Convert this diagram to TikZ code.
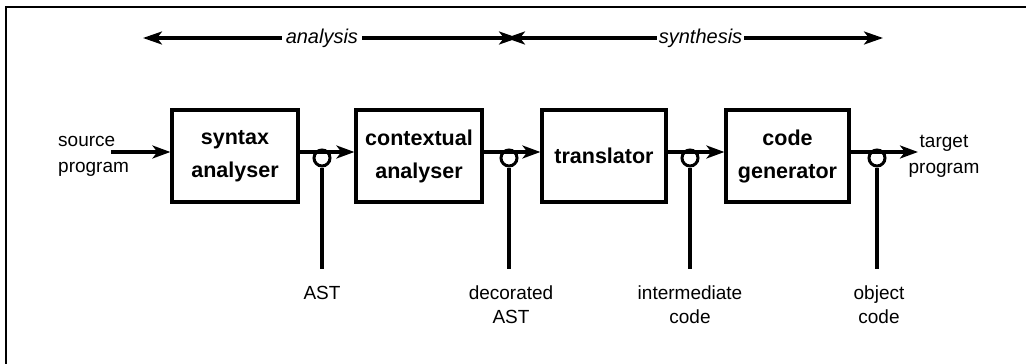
\documentclass[tikz,border=0pt]{standalone}
\usepackage{fontspec}
\setmainfont{Liberation Sans}
\usetikzlibrary{arrows.meta}

\tikzset{
  frameline/.style={line width=2pt},
  block/.style={draw, line width=3.2pt, minimum height=92pt, align=center,
    inner sep=0pt, font=\bfseries\fontsize{21.5}{33}\selectfont},
  tap/.style={circle, draw, line width=3pt, minimum size=16pt, inner sep=0pt},
  flow/.style={line width=3.2pt},
  drop/.style={line width=3.2pt},
  tip/.style={-{Stealth[length=18pt,width=13pt,inset=5pt]}},
  twotip/.style={{Stealth[length=19pt,width=13pt,inset=5pt]}-{Stealth[length=19pt,width=13pt,inset=5pt]}},
  phase/.style={fill=white, inner sep=4pt, font=\itshape\fontsize{20}{24}\selectfont},
  lbl/.style={align=center, inner sep=0pt, font=\fontsize{19}{24}\selectfont},
}

\begin{document}
\begin{tikzpicture}[x=1pt,y=-1pt]
\useasboundingbox (0,0) rectangle (1026,364);

% outer frame (top and left edges)
\draw[frameline] (1040,7) -- (6,7) -- (6,380);

% phase arrows
\coordinate (a1) at (143,38);
\coordinate (a2) at (518,38);
\coordinate (s1) at (506,38);
\coordinate (s2) at (883,38);
\draw[flow, twotip] (a1) -- (a2) node[phase, pos=0.477] (analysis) {analysis};
\draw[flow, twotip] (s1) -- (s2) node[phase, pos=0.516, inner sep=2pt] (synthesis) {synthesis};

% compiler phases
\node[block, minimum width=126pt] (syn) at (235,156) {syntax\\analyser};
\node[block, minimum width=126pt] (ctx) at (419,156) {contextual\\analyser};
\node[block, minimum width=124pt] (trn) at (604,156) {translator};
\node[block, minimum width=123pt] (gen) at (787.5,156) {code\\generator};

% input and output
\coordinate (in) at (111,152);
\coordinate (out) at (918,152);
\node[lbl, align=left, anchor=west, font=\fontsize{19}{26}\selectfont] (src) at (58,156) {source\\program};
\node[lbl, font=\fontsize{19}{26}\selectfont] (tgt) at (944,156) {target\\program};

% taps on the data flow
\node[tap] (t1) at (322,158) {};
\node[tap] (t2) at (509,158) {};
\node[tap] (t3) at (690,158) {};
\node[tap] (t4) at (877,158) {};

% data flow between phases
\draw[flow, tip] (in) -- ([yshift=4pt]syn.west);
\draw[flow, tip] ([yshift=4pt]syn.east) -- ([yshift=4pt]ctx.west);
\draw[flow, tip] ([yshift=4pt]ctx.east) -- ([yshift=4pt]trn.west);
\draw[flow, tip] ([yshift=4pt]trn.east) -- ([yshift=4pt]gen.west);
\draw[flow, tip] ([yshift=4pt]gen.east) -- (out);

% intermediate representations
\node[lbl, anchor=north] (r1) at (322,286) {AST};
\node[lbl, anchor=north] (r2) at (511,286) {decorated\\AST};
\node[lbl, anchor=north] (r3) at (690,286) {intermediate\\code};
\node[lbl, anchor=north] (r4) at (879,286) {object\\code};

\coordinate (e1) at (322,269);
\coordinate (e2) at (509,269);
\coordinate (e3) at (690,269);
\coordinate (e4) at (877,269);
\draw[drop] (t1.south) -- (e1);
\draw[drop] (t2.south) -- (e2);
\draw[drop] (t3.south) -- (e3);
\draw[drop] (t4.south) -- (e4);
\end{tikzpicture}
\end{document}
